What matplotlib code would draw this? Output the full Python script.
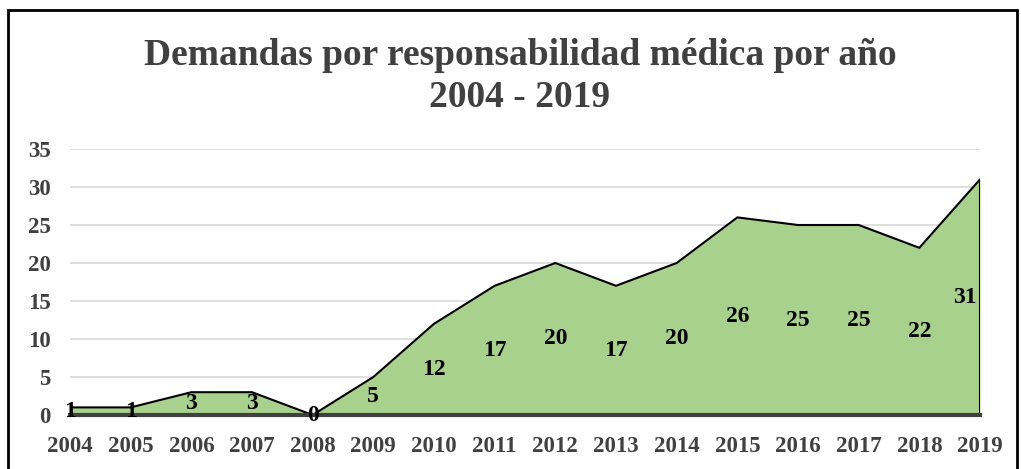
import numpy as np
import matplotlib
matplotlib.use("Agg")
import matplotlib.pyplot as plt
from matplotlib.patches import Rectangle

# Data
years = [2004, 2005, 2006, 2007, 2008, 2009, 2010, 2011,
         2012, 2013, 2014, 2015, 2016, 2017, 2018, 2019]
demandas = [1, 1, 3, 3, 0, 5, 12, 17, 20, 17, 20, 26, 25, 25, 22, 31]
y_ticks = [0, 5, 10, 15, 20, 25, 30, 35]
title_1 = "Demandas por responsabilidad médica por año"
title_2 = "2004 - 2019"

plt.rcParams['font.family'] = ['Liberation Serif', 'DejaVu Serif']
plt.rcParams['font.weight'] = 'bold'

GREEN = '#A9D18E'
GRAY_TXT = '#404040'

fig = plt.figure(figsize=(10.21, 4.69), dpi=100)
ax = fig.add_axes([70 / 1021, 54 / 469, 910 / 1021, 266 / 469])

x = np.array(years)
y = np.array(demandas)

ax.fill_between(x, 0, y, color=GREEN, zorder=2, linewidth=0)
# outline of the area (top + end verticals)
ox = np.concatenate([[x[0]], x, [x[-1]]])
oy = np.concatenate([[0], y, [0]])
ax.plot(ox, oy, color='black', lw=1.5, zorder=3)

ax.set_xlim(years[0], years[-1])
ax.set_ylim(0, 35)
ax.set_yticks(y_ticks)
ax.set_xticks(years)
ax.set_xticklabels([str(v) for v in years])
ax.yaxis.grid(True, color='#D9D9D9', lw=1.2, zorder=0)
ax.set_axisbelow(True)

for s in ['top', 'right', 'left']:
    ax.spines[s].set_visible(False)
ax.spines['bottom'].set_color('#404040')
ax.spines['bottom'].set_linewidth(3)
ax.spines['bottom'].set_zorder(4)

ax.tick_params(axis='both', length=0, labelsize=16.5, labelcolor=GRAY_TXT)
ax.tick_params(axis='y', pad=14)
ax.tick_params(axis='x', pad=15)

# data labels at half height
for i, (xv, yv) in enumerate(zip(years, demandas)):
    last = i == len(years) - 1
    ax.text(xv - 0.05 if last else xv, yv / 2, str(yv),
            ha='right' if last else 'center', va='center', fontsize=17,
            fontweight='bold', color='black', zorder=5)

fig.text(520 / 1021, 1 - 65 / 469, title_1, ha='center', va='baseline',
         fontsize=27, fontweight='bold', color=GRAY_TXT)
fig.text(520 / 1021, 1 - 107 / 469, title_2, ha='center', va='baseline',
         fontsize=27, fontweight='bold', color=GRAY_TXT)

# chart border
fig.patches.append(Rectangle((8 / 1021, -0.05), 1009 / 1021, 1.05 - 10 / 469,
                             transform=fig.transFigure, fill=False,
                             edgecolor='black', lw=2))

fig.savefig("out.png", dpi=100)
